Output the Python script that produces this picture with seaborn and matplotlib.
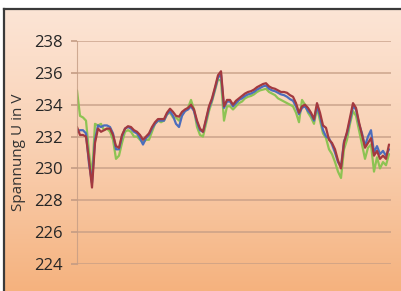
import matplotlib.pyplot as plt
import matplotlib as mpl
import numpy as np
import pandas as pd
import seaborn as sns
from matplotlib.colors import LinearSegmentedColormap

# Spannungsverlauf der drei Phasen (V), gleichmaessig abgetastet
l1_rot = [232.6, 232.1, 232.1, 232.0, 230.5, 228.8, 231.6, 232.5, 232.3, 232.4,
          232.5, 232.5, 232.1, 231.4, 231.3, 232.1, 232.5, 232.65, 232.6, 232.4,
          232.3, 232.1, 231.8, 232.0, 232.2, 232.6, 232.9, 233.1, 233.1, 233.1,
          233.5, 233.75, 233.55, 233.3, 233.25, 233.55, 233.7, 233.8, 234.0, 233.7,
          233.0, 232.5, 232.3, 233.1, 233.9, 234.4, 235.1, 235.85, 236.1, 233.9,
          234.3, 234.3, 234.0, 234.25, 234.4, 234.55, 234.7, 234.8, 234.85, 234.95,
          235.1, 235.2, 235.3, 235.35, 235.15, 235.05, 235.0, 234.9, 234.8, 234.8,
          234.75, 234.6, 234.5, 234.1, 233.5, 233.9, 234.0, 233.8, 233.5, 233.1,
          234.1, 233.5, 232.7, 232.55, 231.8, 231.6, 231.2, 230.5, 230.0, 231.6,
          232.3, 233.2, 234.1, 233.8, 232.9, 232.1, 231.3, 231.6, 231.9, 230.8,
          231.1, 230.6, 230.8, 230.6, 231.5]
l2_blau = [232.3, 232.4, 232.4, 232.2, 230.3, 229.1, 231.8, 232.7, 232.6, 232.7,
           232.7, 232.6, 232.2, 231.2, 231.2, 232.0, 232.5, 232.6, 232.5, 232.3,
           232.2, 231.9, 231.5, 231.9, 232.1, 232.5, 232.8, 233.0, 233.0, 233.0,
           233.4, 233.6, 233.3, 232.8, 232.6, 233.3, 233.6, 233.7, 233.9, 233.6,
           232.9, 232.4, 232.3, 233.0, 233.8, 234.3, 235.0, 235.7, 235.9, 233.8,
           234.2, 234.2, 233.9, 234.1, 234.3, 234.4, 234.55, 234.65, 234.7, 234.8,
           234.95, 235.05, 235.15, 235.2, 235.0, 234.9, 234.85, 234.75, 234.65, 234.6,
           234.5, 234.35, 234.25, 233.9, 233.4, 233.8, 233.9, 233.6, 233.4, 233.0,
           233.9, 233.3, 232.4, 232.0, 231.9, 231.5, 231.0, 230.4, 230.1, 231.7,
           232.2, 233.0, 233.9, 233.7, 232.8, 232.2, 231.4, 232.0, 232.4, 231.0,
           231.4, 230.9, 231.1, 230.8, 231.2]
l3_gruen = [234.9, 233.3, 233.2, 233.0, 231.0, 229.5, 232.8, 232.7, 232.8, 232.4,
            232.5, 232.3, 231.8, 230.6, 230.8, 231.6, 232.3, 232.4, 232.3, 232.0,
            232.0, 231.8, 231.6, 231.8, 231.8, 232.3, 232.8, 233.0, 232.9, 233.0,
            233.4, 233.5, 233.2, 233.2, 233.0, 233.4, 233.6, 233.8, 234.3, 233.7,
            232.6, 232.1, 232.0, 232.8, 233.6, 234.2, 234.9, 235.6, 235.5, 233.0,
            233.9, 233.9, 233.7, 233.9, 234.1, 234.2, 234.4, 234.5, 234.55, 234.65,
            234.8, 234.9, 234.95, 235.0, 234.8, 234.7, 234.6, 234.4, 234.3, 234.2,
            234.1, 234.0, 233.9, 233.5, 232.9, 234.3, 234.0, 233.5, 233.2, 232.8,
            233.8, 233.0, 232.2, 231.9, 231.2, 230.9, 230.4, 229.8, 229.4, 231.2,
            231.8, 232.8, 233.6, 233.3, 232.4, 231.5, 230.6, 231.3, 231.5, 229.8,
            230.7, 230.0, 230.4, 230.2, 230.9]
y_ticks = [224, 226, 228, 230, 232, 234, 236, 238]
y_label = 'Spannung U in V'


def main():
    n = len(l1_rot)
    df = pd.concat([
        pd.DataFrame({'Messpunkt': np.arange(n), 'U': l3_gruen, 'Phase': 'L3'}),
        pd.DataFrame({'Messpunkt': np.arange(n), 'U': l2_blau, 'Phase': 'L2'}),
        pd.DataFrame({'Messpunkt': np.arange(n), 'U': l1_rot, 'Phase': 'L1'}),
    ], ignore_index=True)

    sns.set_style('white')
    mpl.rcParams['font.family'] = ['Open Sans', 'DejaVu Sans']
    mpl.rcParams['font.size'] = 12

    fig = plt.figure(figsize=(4.01, 2.91), dpi=100, facecolor='white')

    # Hintergrund mit Farbverlauf und Rahmen oben/links
    bg = fig.add_axes([4 / 401, 0, 1 - 4 / 401, 1 - 8.5 / 291])
    cmap = LinearSegmentedColormap.from_list('peach', ['#FCE5D6', '#F9D0B2', '#F5B27E'])
    bg.imshow(np.linspace(0, 1, 256).reshape(-1, 1), aspect='auto', cmap=cmap,
              extent=[0, 1, 0, 1], origin='upper')
    bg.set_xlim(0, 1)
    bg.set_ylim(0, 1)
    bg.set_xticks([])
    bg.set_yticks([])
    for side in ['right', 'bottom']:
        bg.spines[side].set_visible(False)
    for side in ['left', 'top']:
        bg.spines[side].set_color('#3a3a3a')
        bg.spines[side].set_linewidth(1.6)

    ax = fig.add_axes([77 / 401, 1 - 264 / 291, (391 - 77) / 401, (264 - 41) / 291])
    ax.set_facecolor('none')
    sns.lineplot(data=df, x='Messpunkt', y='U', hue='Phase', ax=ax,
                 palette={'L1': '#A3393F', 'L2': '#4C6DBD', 'L3': '#8DC353'},
                 hue_order=['L3', 'L2', 'L1'], linewidth=1.6, legend=False)
    ax.set_xlim(0, (n - 1) * 314 / 312)
    ax.set_ylim(224, 238)
    ax.set_yticks(y_ticks)
    ax.set_xticks([])
    ax.set_xlabel('')
    ax.set_ylabel(y_label, color='#333333', fontsize=11, labelpad=6)
    grid_col = '#C49C84'
    ax.grid(axis='y', color=grid_col, linewidth=1.2, alpha=0.8)
    ax.set_axisbelow(True)
    for side in ['top', 'right', 'bottom']:
        ax.spines[side].set_visible(False)
    ax.spines['left'].set_color(grid_col)
    ax.spines['left'].set_alpha(0.8)
    ax.tick_params(axis='y', left=True, length=4, width=1.2, color=grid_col,
                   labelcolor='#262626', pad=6)
    plt.savefig('out.png', dpi=100)


if __name__ == '__main__':
    main()
